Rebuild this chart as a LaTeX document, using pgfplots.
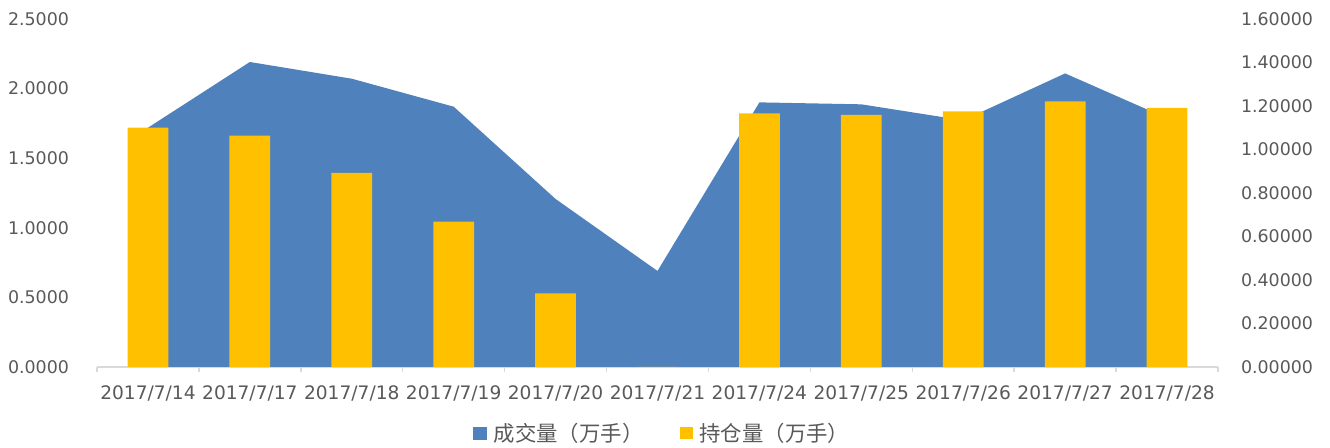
\documentclass[border=0pt]{standalone}
\usepackage{fontspec}
\setmainfont{DejaVu Sans}
\newfontfamily\cjk{Noto Sans CJK SC}
\usepackage{pgfplots}
\pgfplotsset{compat=1.18}

\definecolor{areablue}{HTML}{4F81BD}
\definecolor{baryellow}{HTML}{FFC000}
\definecolor{txtgray}{HTML}{595959}
\definecolor{axgray}{HTML}{D9D9D9}

\pgfplotsset{
  base/.style={
    at={(48.5pt,40.5pt)}, anchor=south west, scale only axis,
    width=560.5pt, height=174pt,
    xmin=-0.5, xmax=10.5, ymin=0,
    ticklabel style={font=\fontsize{8.7}{10}\selectfont, text=txtgray},
    /pgf/number format/assume math mode=true,
    /pgf/number format/fixed, /pgf/number format/fixed zerofill,
    major tick length=0pt,
  },
}

\begin{document}
\begin{tikzpicture}
% 成交量 (area, left axis)
\begin{axis}[base,
  ymax=2.5, ytick={0,0.5,1,1.5,2,2.5},
  /pgf/number format/precision=4,
  axis x line*=bottom, axis y line*=left,
  y axis line style={draw=none},
  x axis line style={axgray, line width=0.7pt, -},
  xtick={0,...,10},
  xticklabels={2017/7/14,2017/7/17,2017/7/18,2017/7/19,2017/7/20,2017/7/21,2017/7/24,2017/7/25,2017/7/26,2017/7/27,2017/7/28},
  minor xtick={-0.5,0.5,...,10.5},
  minor tick length=2.5pt, xtick align=outside,
  minor tick style={axgray, line width=0.7pt},
  yticklabel style={xshift=-10.5pt},
  xticklabel style={yshift=-6pt, font=\fontsize{9.3}{10}\selectfont},
]
\addplot[fill=areablue, draw=none] coordinates {
  (0,1.719) (1,2.191) (2,2.071) (3,1.870) (4,1.207) (5,0.690)
  (6,1.901) (7,1.887) (8,1.772) (9,2.109) (10,1.787)
} \closedcycle;
\end{axis}

% 持仓量 (bars, right axis)
\begin{axis}[base,
  ymax=1.6, ytick={0,0.2,0.4,0.6,0.8,1,1.2,1.4,1.6},
  /pgf/number format/precision=5,
  axis y line*=right, axis x line=none,
  y axis line style={draw=none},
  yticklabel style={xshift=8pt},
  ybar, bar width=0.4,
  legend columns=2,
  legend style={at={(0.505,-0.1925)}, anchor=center, draw=none, fill=none,
    font=\cjk\fontsize{10.7}{12}\selectfont, text=txtgray,
    /tikz/every odd column/.append style={column sep=1.5pt},
    /tikz/every even column/.append style={column sep=16pt}},
]
\addlegendimage{legend image code/.code={\fill[areablue] (0pt,-2.5pt) rectangle (6.5pt,3.5pt);}}
\addlegendentry{成交量（万手）}
\addplot[fill=baryellow, draw=none,
  legend image code/.code={\fill[baryellow] (0pt,-2.5pt) rectangle (6.5pt,3.5pt);}]
  coordinates {
  (0,1.100) (1,1.064) (2,0.892) (3,0.668) (4,0.339) (5,0)
  (6,1.166) (7,1.159) (8,1.175) (9,1.221) (10,1.191)
};
\addlegendentry{持仓量（万手）}
\end{axis}

\pgfresetboundingbox
\path[use as bounding box] (0,0) rectangle (665pt,224pt);
\end{tikzpicture}
\end{document}
